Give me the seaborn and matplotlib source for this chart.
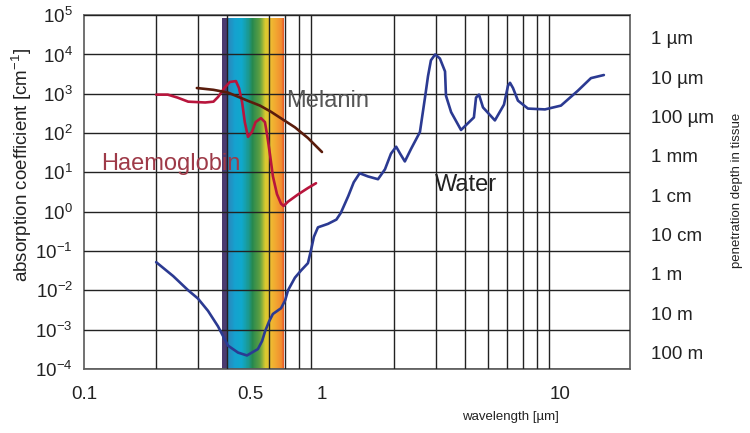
import numpy as np
import matplotlib
matplotlib.use("Agg")
import matplotlib.pyplot as plt
from matplotlib.colors import LinearSegmentedColormap
from matplotlib.ticker import FixedLocator, NullFormatter
import seaborn as sns

# water absorption (wavelength in um, absorption coefficient in 1/cm)
water_wl = [0.201, 0.237, 0.274, 0.301, 0.332, 0.366, 0.403, 0.444, 0.484, 0.538,
            0.56, 0.576, 0.599, 0.622, 0.673, 0.7, 0.72, 0.77, 0.817, 0.873,
            0.9, 0.925, 0.962, 1.06, 1.15, 1.2, 1.29, 1.36, 1.44, 1.56,
            1.72, 1.84, 1.95, 2.05, 2.13, 2.23, 2.37, 2.58, 2.71, 2.79,
            2.87, 2.99, 3.13, 3.29, 3.32, 3.49, 3.84, 4.35, 4.44, 4.57,
            4.75, 5.33, 5.82, 6.05, 6.17, 6.35, 6.66, 7.34, 8.65, 10.1,
            11.9, 13.5, 15.3]
water_abs = [0.052, 0.023, 0.01, 0.0062, 0.003, 0.0012, 3.9e-4, 2.6e-4, 2.2e-4, 3.2e-4,
             5.1e-4, 8.9e-4, 1.6e-3, 2.5e-3, 3.5e-3, 5.5e-3, 0.01, 0.021, 0.032, 0.049,
             0.107, 0.23, 0.4, 0.49, 0.63, 0.93, 2.5, 5.6, 9.5, 7.9,
             6.7, 12, 30, 45, 30, 19, 40, 106, 800, 2800,
             7100, 10000, 7900, 3700, 890, 340, 120, 250, 800, 950,
             450, 210, 530, 1600, 1900, 1400, 670, 420, 400, 500,
             1200, 2500, 3000]

# haemoglobin
hb_wl = [0.201, 0.225, 0.247, 0.274, 0.323, 0.35, 0.366, 0.389, 0.41, 0.435,
         0.448, 0.462, 0.474, 0.489, 0.508, 0.526, 0.554, 0.576, 0.59, 0.605,
         0.622, 0.647, 0.673, 0.69, 0.72, 0.79, 0.873, 0.944]
hb_abs = [950, 950, 800, 630, 600, 630, 830, 1400, 2000, 2100,
          1400, 600, 190, 80, 107, 190, 240, 190, 80, 28,
          8, 2.8, 1.6, 1.4, 1.8, 2.7, 4, 5.3]

# melanin
mel_wl = [0.298, 0.35, 0.403, 0.489, 0.549, 0.61, 0.686, 0.77, 0.873, 1.0]
mel_abs = [1400, 1260, 1070, 660, 500, 350, 220, 140, 75, 33]

# penetration depth labels on the right
depth_labels = ["1 µm", "10 µm", "100 µm", "1 mm", "1 cm", "10 cm", "1 m", "10 m", "100 m"]
depth_pos = [10 ** 4.42, 10 ** 3.42, 10 ** 2.42, 10 ** 1.42, 10 ** 0.42,
             10 ** -0.58, 10 ** -1.58, 10 ** -2.58, 10 ** -3.58]

# visible band colour stops (wavelength in um)
vis_wl = [0.38, 0.399, 0.402, 0.43, 0.46, 0.49, 0.51, 0.55, 0.58, 0.61, 0.65, 0.68, 0.69]
vis_col = ["#4b3a6e", "#4a3c72", "#2b86bb", "#15a2cf", "#10a8cc", "#1b9890", "#26894f",
           "#62a040", "#d9c92f", "#efbc32", "#f2a030", "#f08a30", "#e8602a"]

sns.set_theme(style="white")
plt.rcParams["font.family"] = ["Liberation Sans", "DejaVu Sans"]
plt.rcParams["mathtext.fontset"] = "custom"
plt.rcParams["mathtext.rm"] = "Liberation Sans"
plt.rcParams["mathtext.it"] = "Liberation Sans:italic"
plt.rcParams["mathtext.bf"] = "Liberation Sans:bold"

fig = plt.figure(figsize=(7.5, 4.33), dpi=100)
ax = fig.add_axes([0.112, 0.148, 0.728, 0.817])
ax.set_xscale("log")
ax.set_yscale("log")
ax.set_xlim(0.1, 19.7)
ax.set_ylim(1e-4, 1e5)

# visible spectrum band
pos = [(np.log10(w) - np.log10(vis_wl[0])) / (np.log10(vis_wl[-1]) - np.log10(vis_wl[0])) for w in vis_wl]
cmap = LinearSegmentedColormap.from_list("vis", list(zip(pos, vis_col)))
xe = np.logspace(np.log10(vis_wl[0]), np.log10(vis_wl[-1]), 200)
ye = np.array([1e-4, 8.5e4])
cval = np.linspace(0, 1, len(xe) - 1)[None, :]
ax.pcolormesh(xe, ye, cval, cmap=cmap, shading="flat", zorder=0, rasterized=True)

# grid
ax.xaxis.set_major_locator(FixedLocator([0.1, 0.5, 1, 10]))
ax.set_xticklabels(["0.1", "0.5", "1", "10"])
ax.xaxis.set_minor_locator(FixedLocator([0.2, 0.3, 0.4, 0.5, 0.6, 0.7, 0.8, 0.9, 1,
                                         2, 3, 4, 5, 6, 7, 8, 9, 10]))
ax.xaxis.set_minor_formatter(NullFormatter())
yt = [10.0 ** k for k in range(-4, 6)]
ax.yaxis.set_major_locator(FixedLocator(yt))
ax.set_yticklabels([r"$\mathregular{10^{%d}}$" % k for k in range(-4, 6)])
ax.yaxis.set_minor_locator(FixedLocator([]))
ax.grid(False)
ax.grid(True, which="minor", axis="x", color="#222222", lw=1.0, zorder=1)
ax.grid(True, which="major", axis="y", color="#222222", lw=1.0, zorder=1)
ax.tick_params(axis="both", which="both", length=0, labelsize=13.5, colors="#222222")
ax.tick_params(axis="x", pad=12)
ax.tick_params(axis="y", pad=8)
ax.set_axisbelow(False)
for s in ax.spines.values():
    s.set_color("#666666")
    s.set_linewidth(1.3)

ax.plot(water_wl, water_abs, color="#2b3a92", lw=1.9, zorder=3)
ax.plot(hb_wl, hb_abs, color="#b8153c", lw=1.9, zorder=3)
ax.plot(mel_wl, mel_abs, color="#5a1c0c", lw=1.9, zorder=3)

ax.text(0.706, 650, "Melanin", fontsize=17, color="#555555", ha="left", va="center", zorder=4)
ax.text(0.118, 16, "Haemoglobin", fontsize=17, color="#9e3a48", ha="left", va="center", zorder=4)
ax.text(2.98, 4.8, "Water", fontsize=17, color="#222222", ha="left", va="center", zorder=4)

# right axis: penetration depth
ax2 = ax.twinx()
ax2.set_yscale("log")
ax2.set_ylim(1e-4, 1e5)
ax2.yaxis.set_major_locator(FixedLocator(depth_pos))
ax2.set_yticklabels(depth_labels)
ax2.yaxis.set_minor_locator(FixedLocator([]))
ax2.tick_params(axis="y", length=0, labelsize=13.5, pad=15, colors="#222222")
ax2.grid(False)
for s in ax2.spines.values():
    s.set_visible(False)

fig.text(22 / 750, 1 - 165 / 433, "absorption coefficient [cm$^{-1}$]", rotation=90,
         ha="center", va="center", fontsize=13.5, color="#222222")
fig.text(510 / 750, 1 - 417 / 433, "wavelength [µm]", ha="center", va="center",
         fontsize=9.5, color="#222222")
fig.text(737 / 750, 1 - 190 / 433, "penetration depth in tissue", rotation=90,
         ha="center", va="center", fontsize=9.5, color="#222222")

fig.savefig("out.png", dpi=100)
